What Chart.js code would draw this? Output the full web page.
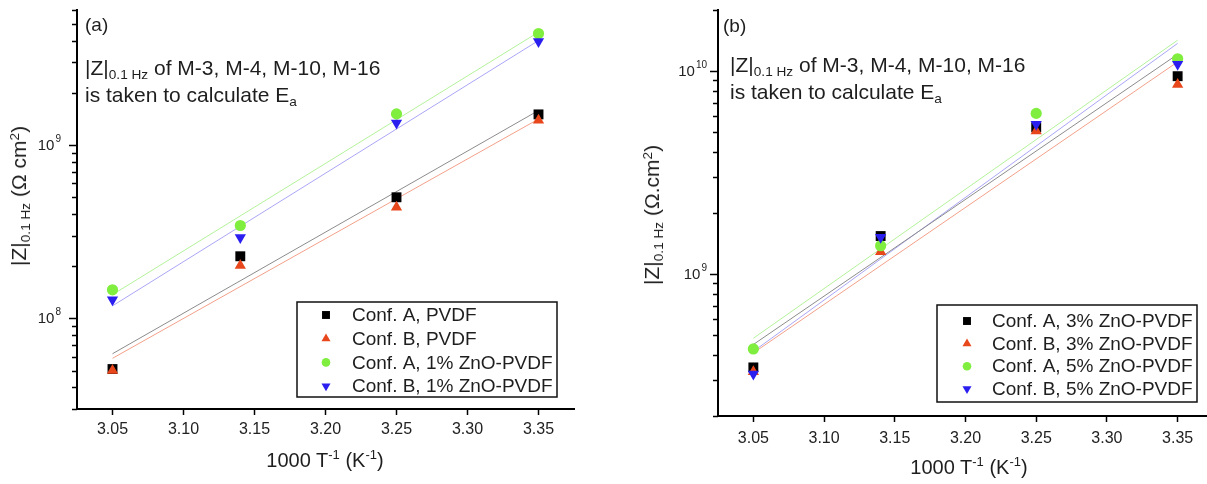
<!DOCTYPE html>
<html>
<head>
<meta charset="utf-8">
<script src="https://cdn.jsdelivr.net/npm/chart.js@4.4.1/dist/chart.umd.min.js"></script>
<style>
  html, body { margin: 0; padding: 0; background: #fff; width: 1207px; height: 484px; overflow: hidden; position: relative; }
  .wrap { position: absolute; top: 0; height: 484px; width: 600px; }
  #wrapA { left: 0; }
  #wrapB { left: 620px; }
  .txt { position: absolute; font-family: "Liberation Sans", Arial, sans-serif; color: #1e1e1e; white-space: nowrap; }
  .txt sub { font-size: 0.65em; vertical-align: -0.3em; line-height: 0; }
  .txt sup { font-size: 0.65em; vertical-align: 0.55em; line-height: 0; }
  .tag { font-size: 19px; line-height: 20px; }
  .note { font-size: 21px; line-height: 27px; }
  .ytitle { font-size: 21px; transform: translate(-50%, -50%) rotate(-90deg); }
  .xtitle { font-size: 20px; transform: translate(-50%, -50%); }
</style>
</head>
<body>
<div class="wrap" id="wrapA"><canvas id="chartA" width="600" height="484"></canvas></div>
<div class="wrap" id="wrapB"><canvas id="chartB" width="600" height="484"></canvas></div>

<div class="txt tag" style="left:85px;top:15px">(a)</div>
<div class="txt note" style="left:85px;top:54px">|Z|<sub>0.1 Hz</sub> of M-3, M-4, M-10, M-16<br>is taken to calculate E<sub>a</sub></div>
<div class="txt ytitle" style="left:19px;top:196px">|Z|<sub>0.1 Hz</sub> (Ω cm<sup>2</sup>)</div>
<div class="txt xtitle" style="left:325px;top:460px">1000 T<sup>-1</sup> (K<sup>-1</sup>)</div>

<div class="txt tag" style="left:723px;top:16px">(b)</div>
<div class="txt note" style="left:730px;top:51px">|Z|<sub>0.1 Hz</sub> of M-3, M-4, M-10, M-16<br>is taken to calculate E<sub>a</sub></div>
<div class="txt ytitle" style="left:652px;top:215px">|Z|<sub>0.1 Hz</sub> (Ω.cm<sup>2</sup>)</div>
<div class="txt xtitle" style="left:969px;top:467px">1000 T<sup>-1</sup> (K<sup>-1</sup>)</div>

<script>
// ====== DATA ======
const X_VALUES = [3.05, 3.14, 3.25, 3.35];
const X_TICKS = [3.05, 3.10, 3.15, 3.20, 3.25, 3.30, 3.35];
const FIT_X = [3.05, 3.35];

// panel (a)
const A_LABELS = ["Conf. A, PVDF", "Conf. B, PVDF", "Conf. A, 1% ZnO-PVDF", "Conf. B, 1% ZnO-PVDF"];
const A_CONF_A_PVDF = [5.1e7, 2.28e8, 4.99e8, 1.50e9];
const A_CONF_B_PVDF = [5.0e7, 2.02e8, 4.37e8, 1.39e9];
const A_CONF_A_ZNO1 = [1.46e8, 3.43e8, 1.51e9, 4.39e9];
const A_CONF_B_ZNO1 = [1.28e8, 2.93e8, 1.34e9, 3.95e9];
// fitted lines read at 3.05 and 3.35
const A_FIT_A_PVDF = [6.25e7, 1.58e9];
const A_FIT_B_PVDF = [5.88e7, 1.41e9];
const A_FIT_A_ZNO1 = [1.37e8, 4.47e9];
const A_FIT_B_ZNO1 = [1.18e8, 4.00e9];
const A_Y_MAJOR = [1e8, 1e9];
const A_Y_MINOR = [3e7, 4e7, 5e7, 6e7, 7e7, 8e7, 9e7, 2e8, 3e8, 4e8, 5e8, 6e8, 7e8, 8e8, 9e8, 2e9, 3e9, 4e9, 5e9, 6e9];

// panel (b)
const B_LABELS = ["Conf. A, 3% ZnO-PVDF", "Conf. B, 3% ZnO-PVDF", "Conf. A, 5% ZnO-PVDF", "Conf. B, 5% ZnO-PVDF"];
const B_CONF_A_ZNO3 = [3.47e8, 1.54e9, 5.29e9, 9.44e9];
const B_CONF_B_ZNO3 = [3.30e8, 1.29e9, 5.07e9, 8.60e9];
const B_CONF_A_ZNO5 = [4.28e8, 1.38e9, 6.19e9, 1.15e10];
const B_CONF_B_ZNO5 = [3.22e8, 1.52e9, 5.47e9, 1.08e10];
const B_FIT_A_ZNO3 = [4.50e8, 1.21e10];
const B_FIT_B_ZNO3 = [4.09e8, 1.11e10];
const B_FIT_A_ZNO5 = [4.83e8, 1.42e10];
const B_FIT_B_ZNO5 = [4.16e8, 1.37e10];
const B_Y_MAJOR = [1e9, 1e10];
const B_Y_MINOR = [2e8, 3e8, 4e8, 5e8, 6e8, 7e8, 8e8, 9e8, 2e9, 3e9, 4e9, 5e9, 6e9, 7e9, 8e9, 9e9, 2e10];

// ====== STYLES ======
const SERIES_STYLE = [
  { color: "#000000", line: "#8c8c8c", style: "rect", rotation: 0, radius: 7, legendRadius: 5.6 },
  { color: "#e8471c", line: "#f3a08a", style: "triangle", rotation: 0, radius: 6.5, legendRadius: 5.2 },
  { color: "#80ee3e", line: "#b4f29a", style: "circle", rotation: 0, radius: 5.6, legendRadius: 4.3 },
  { color: "#2b1ff0", line: "#aaa6f6", style: "triangle", rotation: 180, radius: 6.5, legendRadius: 5.2 }
];
const FONT = "'Liberation Sans', Arial, sans-serif";

function makeDatasets(labels, series, fits) {
  const sets = [];
  series.forEach((vals, i) => {
    const s = SERIES_STYLE[i];
    sets.push({
      label: labels[i],
      data: X_VALUES.map((x, j) => ({ x, y: vals[j] })),
      pointStyle: s.style,
      pointRotation: s.rotation,
      pointRadius: s.radius,
      pointBorderWidth: 0,
      backgroundColor: s.color,
      borderColor: s.color,
      showLine: false,
      order: 4 - i
    });
  });
  fits.forEach((vals, i) => {
    sets.push({
      label: "",
      data: FIT_X.map((x, j) => ({ x, y: vals[j] })),
      showLine: true,
      pointRadius: 0,
      borderColor: SERIES_STYLE[i].line,
      borderWidth: 1,
      order: 10 + i
    });
  });
  return sets;
}

// ====== PLUGINS ======
// y ticks (outward, long major / short minor) and 10^n labels
const logTicksPlugin = {
  id: "logTicks",
  afterDraw(chart, args, opts) {
    const scale = chart.scales.y;
    const ctx = chart.ctx;
    const left = chart.chartArea.left;
    ctx.save();
    ctx.strokeStyle = "#000";
    ctx.lineWidth = 1.5;
    opts.minor.concat(opts.major).forEach((v) => {
      const y = Math.round(scale.getPixelForValue(v)) + 0.5;
      const major = opts.major.includes(v);
      ctx.beginPath();
      ctx.moveTo(left, y);
      ctx.lineTo(left - (major ? 8 : 5), y);
      ctx.stroke();
    });
    ctx.fillStyle = "#222";
    ctx.textBaseline = "middle";
    opts.major.forEach((v) => {
      const y = scale.getPixelForValue(v);
      const exp = String(Math.round(Math.log10(v)));
      ctx.font = "10px " + FONT;
      const ew = ctx.measureText(exp).width;
      const right = left - opts.gap;
      ctx.textAlign = "right";
      ctx.fillText(exp, right, y - 6);
      ctx.font = "15px " + FONT;
      ctx.fillText("10", right - ew - 1, y + 1);
    });
    ctx.restore();
  }
};

// framed legend inside the plot area
const boxLegendPlugin = {
  id: "boxLegend",
  afterDraw(chart, args, opts) {
    const ctx = chart.ctx;
    ctx.save();
    ctx.fillStyle = "#fff";
    ctx.fillRect(opts.x1, opts.y1, opts.x2 - opts.x1, opts.y2 - opts.y1);
    ctx.strokeStyle = "#111";
    ctx.lineWidth = 1.5;
    ctx.strokeRect(opts.x1, opts.y1, opts.x2 - opts.x1, opts.y2 - opts.y1);
    ctx.font = opts.fontSize + "px " + FONT;
    ctx.textBaseline = "middle";
    ctx.textAlign = "left";
    opts.labels.forEach((label, i) => {
      const s = SERIES_STYLE[i];
      const y = opts.rowY + i * opts.rowGap;
      ctx.fillStyle = s.color;
      ctx.strokeStyle = s.color;
      Chart.helpers.drawPoint(ctx, { pointStyle: s.style, rotation: s.rotation, radius: s.legendRadius, borderWidth: 0 }, opts.markerX, y);
      ctx.fillStyle = "#1e1e1e";
      ctx.fillText(label, opts.textX, y + 1);
    });
    ctx.restore();
  }
};

function makeChart(id, cfg) {
  return new Chart(document.getElementById(id), {
    type: "scatter",
    data: { datasets: makeDatasets(cfg.labels, cfg.series, cfg.fits) },
    options: {
      responsive: false,
      animation: false,
      devicePixelRatio: 1,
      layout: { padding: cfg.padding },
      plugins: {
        legend: { display: false },
        tooltip: { enabled: false },
        logTicks: { major: cfg.yMajor, minor: cfg.yMinor, gap: cfg.labelGap },
        boxLegend: cfg.legend
      },
      scales: {
        x: {
          type: "linear",
          min: 3.025,
          max: 3.375,
          afterBuildTicks: (s) => { s.ticks = X_TICKS.map((v) => ({ value: v })); },
          afterFit: (s) => { s.height = cfg.xHeight; },
          ticks: {
            callback: (v) => Number(v).toFixed(2),
            color: "#222",
            font: { family: FONT, size: 16 },
            padding: cfg.xPad,
            maxRotation: 0,
            autoSkip: false
          },
          grid: { drawOnChartArea: false, drawTicks: true, tickLength: 6, color: "#000", tickWidth: 1.5 },
          border: { display: true, color: "#000", width: 2 }
        },
        y: {
          type: "logarithmic",
          min: cfg.yMin,
          max: cfg.yMax,
          afterBuildTicks: (s) => { s.ticks = cfg.yMinor.concat(cfg.yMajor).sort((a, b) => a - b).map((v) => ({ value: v })); },
          afterFit: (s) => { s.width = cfg.yWidth; },
          ticks: { display: false },
          grid: { drawOnChartArea: false, drawTicks: false, color: "#000" },
          border: { display: true, color: "#000", width: 2 }
        }
      }
    },
    plugins: [logTicksPlugin, boxLegendPlugin]
  });
}

// ====== CHARTS ======
makeChart("chartA", {
  labels: A_LABELS,
  series: [A_CONF_A_PVDF, A_CONF_B_PVDF, A_CONF_A_ZNO1, A_CONF_B_ZNO1],
  fits: [A_FIT_A_PVDF, A_FIT_B_PVDF, A_FIT_A_ZNO1, A_FIT_B_ZNO1],
  yMin: 3e7, yMax: 6e9,
  yMajor: A_Y_MAJOR, yMinor: A_Y_MINOR, labelGap: 16,
  padding: { top: 10, right: 26, left: 0, bottom: 0 },
  yWidth: 77, xHeight: 75, xPad: 5,
  legend: { x1: 297, y1: 302, x2: 557, y2: 397, rowY: 315, rowGap: 23.7, markerX: 326, textX: 352, fontSize: 19, labels: A_LABELS }
});

makeChart("chartB", {
  labels: B_LABELS,
  series: [B_CONF_A_ZNO3, B_CONF_B_ZNO3, B_CONF_A_ZNO5, B_CONF_B_ZNO5],
  fits: [B_FIT_A_ZNO3, B_FIT_B_ZNO3, B_FIT_A_ZNO5, B_FIT_B_ZNO5],
  yMin: 2e8, yMax: 2e10,
  yMajor: B_Y_MAJOR, yMinor: B_Y_MINOR, labelGap: 11,
  padding: { top: 10, right: 7, left: 0, bottom: 0 },
  yWidth: 98, xHeight: 68, xPad: 7,
  legend: { x1: 317, y1: 305, x2: 577, y2: 402, rowY: 321, rowGap: 22.6, markerX: 347, textX: 372, fontSize: 19, labels: B_LABELS }
});
</script>
</body>
</html>
